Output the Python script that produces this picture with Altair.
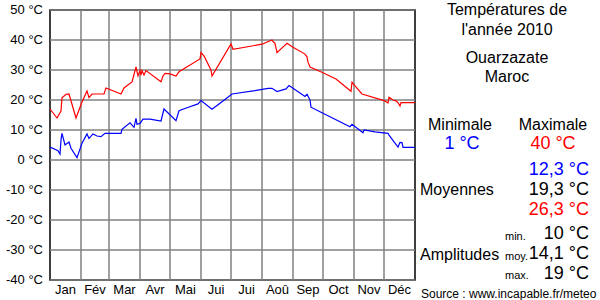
import altair as alt
import pandas as pd

# ---- data (day of year, °C) ----
max_days = [0, 7, 11, 12, 16, 19, 26, 32, 37, 39, 42, 54, 56, 71, 74, 82, 86, 88, 90, 91, 92, 94, 96,
            111, 113, 115, 120, 126, 129, 150, 151, 154, 161, 162, 181, 183, 212, 222, 223, 225, 227,
            237, 243, 255, 257, 258, 260, 273, 286, 301, 302, 305, 312, 335, 338, 339, 343, 346, 348,
            350, 351, 365]
max_vals = [17, 14, 16.3, 20.7, 21.9, 22, 14, 19.3, 23, 20.8, 22, 22, 24, 22, 24, 26, 31, 28, 29.8, 28.3, 29.8, 28.3, 29.8,
            26.1, 28, 28.9, 28.7, 28, 29.4, 33.7, 35.8, 34.7, 30, 28, 38.7, 36.9, 38.6, 40, 39.5, 38.9, 35.8,
            38.9, 37.6, 35.3, 34.4, 32.6, 31, 29.1, 27, 22.9, 25.9, 24.7, 22, 19.7, 19, 20.9, 20, 19.7, 19.1,
            18, 19.1, 19.1]

min_days = [0, 1, 8, 10, 11, 12, 15, 19, 21, 27, 32, 37, 39, 43, 47, 51, 55, 71, 72, 80, 84, 86, 87, 90,
            93, 100, 111, 114, 126, 129, 137, 148, 151, 162, 175, 182, 205, 218, 222, 227, 236, 239, 243,
            255, 257, 260, 261, 270, 300, 302, 313, 314, 325, 338, 339, 348, 350, 352, 353, 365]
min_vals = [4, 4.2, 3.1, 2, 6.7, 8.9, 5, 6, 3.9, 0.8, 5.6, 8.7, 7.2, 8.7, 8, 7.8, 8.9, 8.9, 10.2, 12.4, 10.9, 13.9, 11.9, 12.2,
            13.6, 13.6, 13, 17, 13.1, 16.4, 17.4, 18.7, 19.8, 16.9, 20.2, 22, 23.1, 23.9, 23.9, 22.8, 23.7, 24.8, 23.9,
            21.2, 21.9, 20, 17.6, 16.1, 11.1, 11.9, 9.1, 10, 9.4, 8.9, 8.3, 4.3, 5.9, 5.8, 4.2, 4.2]

month_names = ["Jan", "Fév", "Mar", "Avr", "Mai", "Jui", "Jui", "Aoû", "Sep", "Oct", "Nov", "Déc"]
month_mids = [15.5, 45, 74.5, 105, 135.5, 166, 196.5, 227.5, 258, 288.5, 319, 349.5]
month_bounds = [31, 59, 90, 120, 151, 181, 212, 243, 273, 304, 334]
y_ticks = [-40, -30, -20, -10, 0, 10, 20, 30, 40, 50]

title_lines = ["Températures de", "l'année 2010", "Ouarzazate", "Maroc"]
minimum_text = "1 °C"
maximum_text = "40 °C"
mean_texts = ["12,3 °C", "19,3 °C", "26,3 °C"]
ampl_labels = ["min.", "moy.", "max."]
ampl_texts = ["10 °C", "14,1 °C", "19 °C"]
source_text = "Source : www.incapable.fr/meteo"

FONT = "Liberation Sans"
PX, PY = 50, 10  # plot origin on page

xscale = alt.Scale(domain=[0, 365], nice=False, zero=False)
yscale = alt.Scale(domain=[-40, 50], nice=False, zero=False)

df_max = pd.DataFrame({"d": max_days, "t": max_vals})
df_min = pd.DataFrame({"d": min_days, "t": min_vals})
df_b = pd.DataFrame({"d": month_bounds})
df_m = pd.DataFrame({"d": month_mids, "name": month_names})
df_y = pd.DataFrame({"t": y_ticks})

vgrid = alt.Chart(df_b).mark_rule(color="#808080", strokeWidth=1.5).encode(
    x=alt.X("d:Q", scale=xscale, axis=None)
)
hgrid = alt.Chart(df_y).mark_rule(color="#808080", strokeWidth=1.5).encode(
    y=alt.Y("t:Q", scale=yscale, axis=None)
)
ylabels = alt.Chart(df_y).transform_calculate(lab="datum.t + ' °C'").mark_text(
    font=FONT, fontSize=13, color="black", align="right", baseline="middle"
).encode(
    y=alt.Y("t:Q", scale=yscale, axis=None),
    x=alt.value(-7),
    text="lab:N",
)

line_max = alt.Chart(df_max).mark_line(color="#ff0000", strokeWidth=1.2).encode(
    x=alt.X("d:Q", scale=xscale, axis=None),
    y=alt.Y("t:Q", scale=yscale, axis=None),
)
line_min = alt.Chart(df_min).mark_line(color="#0000ff", strokeWidth=1.2).encode(
    x=alt.X("d:Q", scale=xscale, axis=None),
    y=alt.Y("t:Q", scale=yscale, axis=None),
)
months = alt.Chart(df_m).mark_text(font=FONT, fontSize=13, color="black", baseline="middle").encode(
    x=alt.X("d:Q", scale=xscale, axis=None),
    y=alt.value(290 - PY),
    text="name:N",
)


def label(txt, x, y, size=16, color="black", align="center"):
    return alt.Chart(pd.DataFrame({"s": [txt]})).mark_text(
        font=FONT, fontSize=size, color=color, align=align, baseline="alphabetic"
    ).encode(x=alt.value(x - PX), y=alt.value(y - PY), text="s:N")


texts = [
    label(title_lines[0], 507, 15),
    label(title_lines[1], 507, 35),
    label(title_lines[2], 507, 63),
    label(title_lines[3], 507, 82),
    label("Minimale", 460, 130),
    label("Maximale", 553, 130),
    label(minimum_text, 462, 149, size=18, color="#0000ff"),
    label(maximum_text, 553, 149, size=18, color="#ff0000"),
    label(mean_texts[0], 589, 175, size=18, color="#0000ff", align="right"),
    label(mean_texts[1], 589, 195, size=18, align="right"),
    label(mean_texts[2], 589, 215, size=18, color="#ff0000", align="right"),
    label("Moyennes", 420, 195, align="left"),
    label(ampl_labels[0], 505, 240, size=11, align="left"),
    label(ampl_labels[1], 505, 260, size=11, align="left"),
    label(ampl_labels[2], 505, 279, size=11, align="left"),
    label(ampl_texts[0], 589, 239, size=18, align="right"),
    label(ampl_texts[1], 589, 259, size=18, align="right"),
    label(ampl_texts[2], 589, 279, size=18, align="right"),
    label("Amplitudes", 420, 260, align="left"),
    label(source_text, 421, 298, size=12, align="left"),
]

chart = alt.layer(vgrid, hgrid, line_max, line_min, ylabels, months, *texts).properties(
    width=365, height=270,
    autosize=alt.AutoSizeParams(type="none"),
    padding={"left": PX, "top": PY, "right": 185, "bottom": 20},
    background="white",
).configure_view(stroke="black", strokeWidth=1.5)

chart.save("out.html", embed_options={"renderer": "svg", "actions": False})
